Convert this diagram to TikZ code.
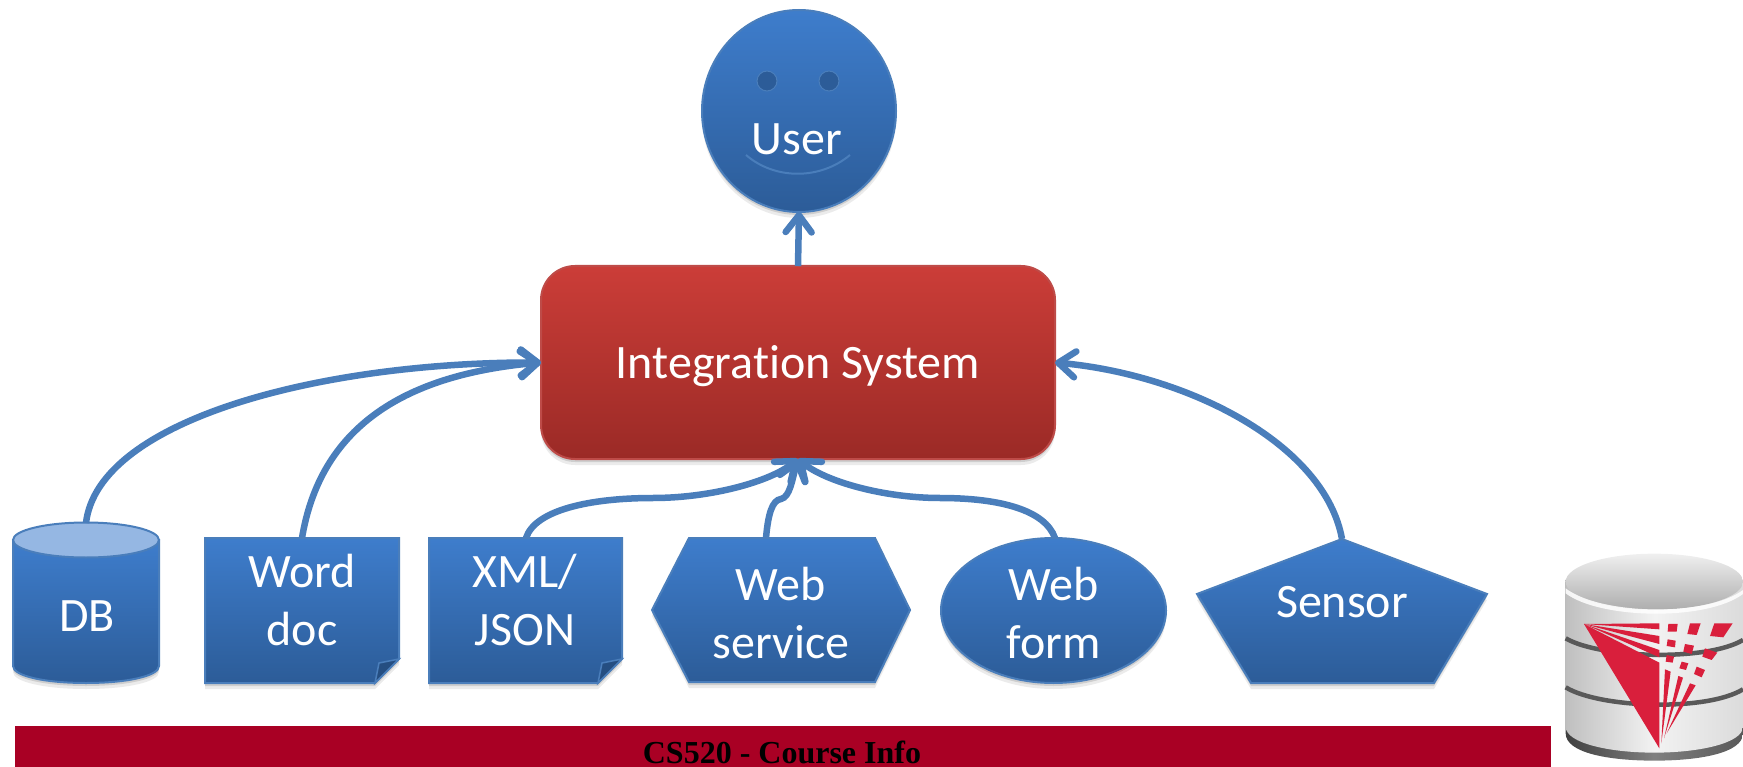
\documentclass[tikz,border=0pt]{standalone}
\usepackage{fontspec}
\setmainfont{Carlito}[Ligatures=NoCommon]
\newfontfamily\bannerfont{Liberation Serif}
\usetikzlibrary{arrows.meta,shadows,backgrounds}
\definecolor{bluetop}{HTML}{3E7DCC}
\definecolor{bluebot}{HTML}{2C5C98}
\definecolor{blueline}{HTML}{4A7EBB}
\definecolor{redtop}{HTML}{CB3D38}
\definecolor{redbot}{HTML}{9B2A26}
\definecolor{redline}{HTML}{BE4B48}
\definecolor{banner}{HTML}{A90024}
\definecolor{logored}{HTML}{D91F3C}
\tikzset{
  softshadow/.style={drop shadow={shadow xshift=0pt,shadow yshift=-3pt,opacity=.12,fill=black},
                     drop shadow={shadow xshift=0pt,shadow yshift=-6pt,opacity=.08,fill=black}},
  blueshape/.style={top color=bluetop,bottom color=bluebot,draw=blueline,line width=2pt,softshadow},
  redshape/.style={top color=redtop,bottom color=redbot,draw=redline,line width=2pt,softshadow},
  anchorbox/.style={inner sep=0pt,outer sep=0pt,minimum width=#1},
  lbl/.style={text=white,align=center,inner sep=0pt,font=\fontsize{48}{58}\selectfont},
  conn/.style={draw=blueline,line width=6.5pt,-{Straight Barb[length=17pt,width=26pt,line width=6.5pt,round]}},
  logoface/.style={fill=logored,draw=none},
}
\begin{document}
\begin{tikzpicture}[x=1pt,y=-1pt]
\useasboundingbox (0,0) rectangle (1743,767);
% ---- shapes
\path[blueshape] (799,111) ellipse [x radius=97,y radius=101];
\path[fill=bluebot,draw=blueline,line width=1pt] (767,81) circle [radius=10] (829,81) circle [radius=10];
\draw[blueline,line width=2pt] (746,155) .. controls (775,180) and (820,180) .. (850,155);
\path[redshape,rounded corners=34pt] (541,266) rectangle (1055,459);
% DB
\path[blueshape] (13,540) -- (13,666) .. controls (13,676) and (45,683) .. (86,683) .. controls (127,683) and (159,676) .. (159,666) -- (159,540) -- cycle;
\path[fill=bluetop!55!white,draw=blueline,line width=2pt] (86,540) ellipse [x radius=73,y radius=17.5];
% documents
\path[blueshape] (205,538) -- (399,538) -- (399,659) -- (375,683) -- (205,683) -- cycle;
\path[fill=bluebot!85!black,draw=blueline,line width=1.5pt] (375,683) -- (379,663) -- (399,659) -- cycle;
\path[blueshape] (429,538) -- (622,538) -- (622,659) -- (598,683) -- (429,683) -- cycle;
\path[fill=bluebot!85!black,draw=blueline,line width=1.5pt] (598,683) -- (602,663) -- (622,659) -- cycle;
% hexagon, ellipse, pentagon
\path[blueshape] (689,538) -- (875,538) -- (910,610) -- (875,682) -- (689,682) -- (652,610) -- cycle;
\path[blueshape] (1053.5,610.5) ellipse [x radius=112.5,y radius=72.5];
\path[blueshape] (1342,539) -- (1487,594) -- (1434,683) -- (1251,683) -- (1197,594) -- cycle;
% banner
\path[fill=banner] (15,726) rectangle (1551,767);
% ---- logo
\begin{scope}[shift={(1500,530)},x=0.3333pt,y=-0.3333pt]
  \clip (150,40) rectangle (729,711);
  \path[left color=black!75,right color=black!65,middle color=black!50] (197,150) -- (197,610) .. controls (197,670) and (330,692) .. (463,692) .. controls (596,692) and (729,670) .. (729,610) -- (729,150) -- cycle;
  \path[left color=black!25,right color=black!14,middle color=black!5] (197,150) -- (197,590) .. controls (197,640) and (330,668) .. (463,668) .. controls (596,668) and (729,640) .. (729,590) -- (729,150) -- cycle;
  \path[top color=black!6,bottom color=black!32] (463,155) ellipse [x radius=266,y radius=84];
  \path[fill=white,opacity=.85] (197,175) .. controls (300,255) and (620,262) .. (729,180) -- (729,192) .. controls (620,274) and (300,268) .. (197,190) -- cycle;
  \draw[black!65,line width=4.5pt] (197,325) .. controls (300,385) and (620,395) .. (729,330);
  \draw[black!65,line width=4.5pt] (197,472) .. controls (300,535) and (620,545) .. (729,478);
  \path[logoface] (252,282) -- (478,398) -- (478,655) -- cycle;
  \path[logoface] (252,282) -- (478,280) -- (478,298) -- cycle;
  \path[logoface] (252,282) -- (478,318) -- (478,342) -- cycle;
  \path[logoface] (252,282) -- (478,360) -- (478,382) -- cycle;
  \path[logoface] (484,640) -- (495,418) -- (512,425) -- cycle;
  \path[logoface] (492,625) -- (535,438) -- (549,443) -- cycle;
  \path[logoface] (500,610) -- (570,460) -- (587,466) -- cycle;
  \path[logoface] (505,282) -- (533,282) -- (530,305) -- (503,305) -- cycle;
  \path[logoface] (570,280) -- (602,280) -- (590,315) -- (562,312) -- cycle;
  \path[logoface] (643,280) -- (698,280) -- (670,322) -- (630,318) -- cycle;
  \path[logoface] (503,328) -- (527,332) -- (525,352) -- (500,348) -- cycle;
  \path[logoface] (555,342) -- (582,347) -- (575,372) -- (550,365) -- cycle;
  \path[logoface] (615,355) -- (652,368) -- (635,390) -- (607,380) -- cycle;
  \path[logoface] (500,375) -- (522,380) -- (518,398) -- (497,395) -- cycle;
  \path[logoface] (545,395) -- (565,400) -- (558,420) -- (538,415) -- cycle;
  \path[logoface] (590,410) -- (615,420) -- (605,442) -- (582,432) -- cycle;
\end{scope}
% ---- invisible named boxes carrying the anchors of the connectors
\node[anchorbox=194pt,minimum height=202pt] (user) at (799,111) {};
\node[anchorbox=514pt,minimum height=193pt] (sys) at (798,362.5) {};
\node[anchorbox=146pt,minimum height=160pt] (db) at (86,603) {};
\node[anchorbox=194pt,minimum height=145pt] (word) at (302,610.5) {};
\node[anchorbox=193pt,minimum height=145pt] (xml) at (526,610.5) {};
\node[anchorbox=258pt,minimum height=144pt] (ws) at (766,610) {};
\node[anchorbox=2pt,minimum height=145pt] (form) at (1055,610.5) {};
\node[anchorbox=290pt,minimum height=144pt] (sensor) at (1342,611) {};
% ---- texts
\node[lbl] (usertxt) at (797,139) {User};
\node[lbl] (systxt) at (798,366) {Integration System};
\node[lbl] (dbtxt) at (87,616) {DB};
\node[lbl] (wordtxt) at (302,600) {Word\\doc};
\node[lbl] (xmltxt) at (525,600) {XML/\\JSON};
\node[lbl] (wstxt) at (781,613) {Web\\service};
\node[lbl] (formtxt) at (1054,613) {Web\\form};
\node[lbl] (sensortxt) at (1342,602) {Sensor};
\node[inner sep=0pt,font=\bannerfont\bfseries\fontsize{32}{34}\selectfont,text=black] (bannertxt) at (782,752) {CS520 - Course Info};
% ---- connectors
\draw[conn] (sys.north) -- (user.south);
\draw[conn] (db.north) .. controls (98,420) and (320,362) .. (sys.west);
\draw[conn] (word.north) .. controls (320,430) and (400,375) .. (sys.west);
\draw[conn] (xml.north) .. controls (535,510) and (590,498) .. (653,498) .. controls (710,498) and (770,482) .. (sys.south);
\draw[conn] (ws.north) .. controls (768,515) and (772,500) .. (781,499) .. controls (790,497) and (792,480) .. (sys.south);
\draw[conn] (form.north) .. controls (1045,510) and (1000,498) .. (940,498) .. controls (885,498) and (826,482) .. (sys.south);
\draw[conn] (sensor.north) .. controls (1325,445) and (1190,375) .. (sys.east);
\end{tikzpicture}
\end{document}
